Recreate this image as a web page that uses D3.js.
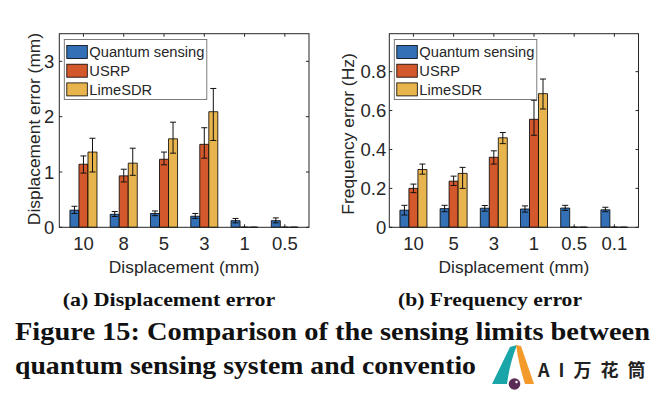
<!DOCTYPE html>
<html>
<head>
<meta charset="utf-8">
<title>Figure 15</title>
<script src="https://cdn.jsdelivr.net/npm/d3@7"></script>
<style>
  body { margin: 0; background: #fff; }
  svg { display: block; }
  .sans { font-family: "Liberation Sans", Arial, Helvetica, sans-serif; fill: #262626; }
  .caption { font-family: "Liberation Serif", "Times New Roman", serif; font-weight: bold; fill: #111; }
</style>
</head>
<body>
<script>
// categories / tick labels
const dispCats = ["10", "8", "5", "3", "1", "0.5"];
const freqCats = ["10", "5", "3", "1", "0.5", "0.1"];
const seriesNames = ["Quantum sensing", "USRP", "LimeSDR"];
const seriesColors = ["#3470b6", "#d3582b", "#e8b44d"];
const dispTicks = [0, 1, 2, 3];
const freqTicks = [0, 0.2, 0.4, 0.6, 0.8];

// (a) displacement error (mm), with lower / upper error extents
const dispQuantum   = [0.31, 0.235, 0.25, 0.20, 0.12, 0.12];
const dispQuantumLo = [0.06, 0.04, 0.04, 0.04, 0.04, 0.04];
const dispQuantumHi = [0.07, 0.05, 0.045, 0.05, 0.04, 0.05];
const dispUsrp      = [1.14, 0.93, 1.23, 1.50, 0, 0];
const dispUsrpLo    = [0.16, 0.11, 0.10, 0.25, 0, 0];
const dispUsrpHi    = [0.15, 0.12, 0.13, 0.30, 0, 0];
const dispLime      = [1.36, 1.16, 1.60, 2.09, 0, 0];
const dispLimeLo    = [0.36, 0.22, 0.26, 0.52, 0, 0];
const dispLimeHi    = [0.25, 0.27, 0.30, 0.42, 0, 0];

// (b) frequency error (Hz)
const freqQuantum   = [0.088, 0.096, 0.098, 0.094, 0.099, 0.090];
const freqQuantumLo = [0.025, 0.016, 0.015, 0.016, 0.012, 0.010];
const freqQuantumHi = [0.025, 0.017, 0.014, 0.016, 0.014, 0.013];
const freqUsrp      = [0.200, 0.237, 0.360, 0.555, 0, 0];
const freqUsrpLo    = [0.022, 0.022, 0.035, 0.082, 0, 0];
const freqUsrpHi    = [0.022, 0.026, 0.033, 0.098, 0, 0];
const freqLime      = [0.297, 0.277, 0.460, 0.687, 0, 0];
const freqLimeLo    = [0.024, 0.077, 0.030, 0.079, 0, 0];
const freqLimeHi    = [0.028, 0.031, 0.027, 0.075, 0, 0];

const W = 672, H = 396;
const svg = d3.select("body").append("svg").attr("width", W).attr("height", H);
svg.append("rect").attr("width", W).attr("height", H).attr("fill", "#fff");

const axisColor = "#262626";
const barW = 0.224;   // bar width in category units

function drawPanel(p) {
  const g = svg.append("g");
  const x = d3.scaleLinear().domain([0.4, 6.6]).range([p.left, p.right]);
  const y = d3.scaleLinear().domain(p.ydomain).range([p.bottom, p.top]);
  const catIdx = d3.range(p.cats.length);

  // ticks (inside, all four sides)
  const tl = 3;
  p.ticks.forEach(t => {
    g.append("line").attr("x1", p.left).attr("x2", p.left + tl)
      .attr("y1", y(t)).attr("y2", y(t)).attr("stroke", axisColor);
    g.append("line").attr("x1", p.right).attr("x2", p.right - tl)
      .attr("y1", y(t)).attr("y2", y(t)).attr("stroke", axisColor);
  });
  catIdx.forEach(i => {
    g.append("line").attr("x1", x(i + 1)).attr("x2", x(i + 1))
      .attr("y1", p.top).attr("y2", p.top + tl).attr("stroke", axisColor);
    g.append("line").attr("x1", x(i + 1)).attr("x2", x(i + 1))
      .attr("y1", p.bottom).attr("y2", p.bottom - tl).attr("stroke", axisColor);
  });

  // bars
  p.series.forEach((s, si) => {
    const off = (si - 1) * barW;
    g.selectAll(null).data(s.vals).enter().append("path")
      .attr("d", (d, i) => {
        const x0 = x(i + 1 + off - barW / 2), x1 = x(i + 1 + off + barW / 2);
        const y0 = y(0), y1 = y(d);
        return `M${x0},${y0}V${y1}H${x1}V${y0}Z`;
      })
      .attr("fill", seriesColors[si])
      .attr("stroke", "#000").attr("stroke-width", 0.8);
  });

  // error bars
  p.series.forEach((s, si) => {
    const off = (si - 1) * barW;
    s.vals.forEach((d, i) => {
      const cx = x(i + 1 + off);
      const yl = y(d - s.lo[i]), yh = y(d + s.hi[i]);
      g.append("line").attr("x1", cx).attr("x2", cx).attr("y1", yl).attr("y2", yh)
        .attr("stroke", "#111").attr("stroke-width", 1);
      [yl, yh].forEach(yy => g.append("line")
        .attr("x1", cx - 3).attr("x2", cx + 3).attr("y1", yy).attr("y2", yy)
        .attr("stroke", "#111").attr("stroke-width", 1));
    });
  });

  // box
  g.append("rect").attr("x", p.left).attr("y", p.top)
    .attr("width", p.right - p.left).attr("height", p.bottom - p.top)
    .attr("fill", "none").attr("stroke", axisColor).attr("stroke-width", 1);

  // tick labels
  g.selectAll(null).data(p.ticks).enter().append("text")
    .attr("class", "sans").attr("font-size", 18.5)
    .attr("x", p.left - p.tickGap).attr("y", d => y(d)).attr("dy", "0.36em")
    .attr("text-anchor", "end").text(p.fmt);
  g.selectAll(null).data(p.cats).enter().append("text")
    .attr("class", "sans").attr("font-size", 18.5)
    .attr("x", (d, i) => x(i + 1)).attr("y", 249.5)
    .attr("text-anchor", "middle").text(d => d);

  // axis labels
  g.append("text").attr("class", "sans").attr("font-size", 17.4)
    .attr("x", (p.left + p.right) / 2).attr("y", 272.5)
    .attr("text-anchor", "middle").text("Displacement (mm)");
  g.append("text").attr("class", "sans").attr("font-size", 17.4)
    .attr("transform", `translate(${p.ylabelX},${p.ylabelY}) rotate(-90)`)
    .attr("text-anchor", "middle").attr("dy", "0.35em").text(p.ylabel);

  // legend
  const lg = g.append("g").attr("transform", `translate(${p.left + 5},39.5)`);
  lg.append("rect").attr("width", 142.5).attr("height", 60)
    .attr("fill", "#fff").attr("stroke", "#6e6e6e").attr("stroke-width", 0.9);
  seriesNames.forEach((n, i) => {
    const cy = 12.5 + i * 18.7;
    lg.append("rect").attr("x", 2.5).attr("y", cy - 6.5).attr("width", 20.5).attr("height", 13)
      .attr("fill", seriesColors[i]).attr("stroke", "#000").attr("stroke-width", 0.8);
    lg.append("text").attr("class", "sans").attr("font-size", 14.7)
      .attr("x", 25).attr("y", cy).attr("dy", "0.36em").text(n);
  });
}

drawPanel({
  left: 59.3, right: 309, top: 33.7, bottom: 227.3,
  ydomain: [0, 3.5], ticks: dispTicks, fmt: d3.format("d"), tickGap: 5,
  cats: dispCats,
  series: [
    { vals: dispQuantum, lo: dispQuantumLo, hi: dispQuantumHi },
    { vals: dispUsrp, lo: dispUsrpLo, hi: dispUsrpHi },
    { vals: dispLime, lo: dispLimeLo, hi: dispLimeHi }
  ],
  ylabel: "Displacement error (mm)", ylabelX: 34, ylabelY: 129
});

drawPanel({
  left: 389.3, right: 638.5, top: 33.7, bottom: 227.3,
  ydomain: [0, 0.995], ticks: freqTicks, fmt: d => d === 0 ? "0" : d3.format(".1f")(d), tickGap: 3,
  cats: freqCats,
  series: [
    { vals: freqQuantum, lo: freqQuantumLo, hi: freqQuantumHi },
    { vals: freqUsrp, lo: freqUsrpLo, hi: freqUsrpHi },
    { vals: freqLime, lo: freqLimeLo, hi: freqLimeHi }
  ],
  ylabel: "Frequency error (Hz)", ylabelX: 348, ylabelY: 134
});

// captions
function caption(str, x, yb, size, len) {
  svg.append("text").attr("class", "caption").attr("font-size", size)
    .attr("x", x).attr("y", yb)
    .attr("textLength", len).attr("lengthAdjust", "spacingAndGlyphs")
    .text(str);
}
caption("(a) Displacement error", 62.7, 306, 19, 212.6);
caption("(b) Frequency error", 398, 306, 19, 184);
caption("Figure 15: Comparison of the sensing limits between", 15, 340, 25, 635);
caption("quantum sensing system and conventio", 15, 374, 25, 461);

// watermark logo
const logo = svg.append("g");
logo.append("path").attr("d", "M492,384 L510,347 L517,345 Q510,362 507,384 Z").attr("fill", "#1aa6a8");
logo.append("path").attr("d", "M516,345 L521,346 L534,384 L525,384 Q519,366 516,345 Z").attr("fill", "#f39a2a");
logo.append("circle").attr("cx", 514.5).attr("cy", 384).attr("r", 5.8).attr("fill", "#5b2a55");
logo.append("circle").attr("cx", 516.5).attr("cy", 382).attr("r", 1.2).attr("fill", "#fff");
logo.append("text").attr("x", 538).attr("y", 377)
  .attr("font-family", "'Noto Sans CJK SC', sans-serif").attr("font-size", 18)
  .attr("font-weight", "bold").attr("letter-spacing", 9).attr("fill", "#222").text("AI万花筒");
</script>
</body>
</html>
